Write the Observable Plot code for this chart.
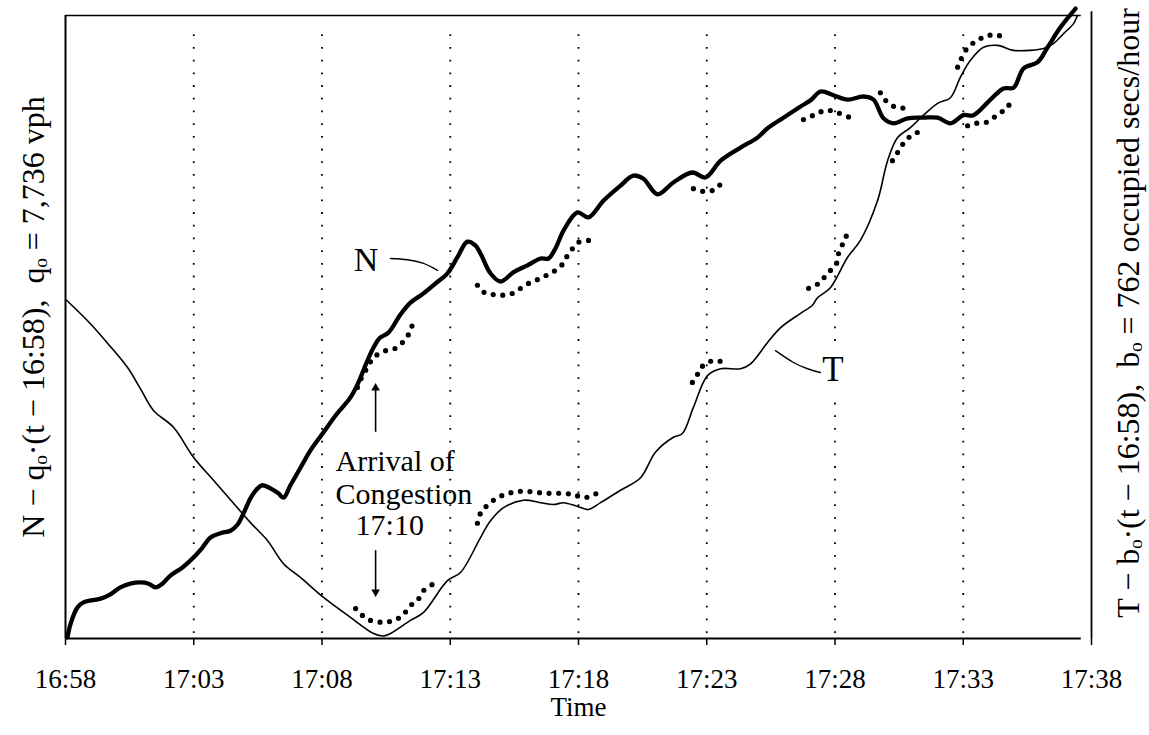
<!DOCTYPE html>
<html>
<head>
<meta charset="utf-8">
<script src="https://cdn.jsdelivr.net/npm/d3@7"></script>
<script src="https://cdn.jsdelivr.net/npm/@observablehq/plot@0.6"></script>
<style>
  html, body { margin: 0; padding: 0; background: #fff; }
  #chart { width: 1149px; height: 735px; }
  #chart svg, #chart svg text { font-family: "Liberation Serif", "Times New Roman", Times, serif !important; }
</style>
</head>
<body>
<div id="chart"></div>
<script>
// x: minutes after 16:58, y: cumulative count (arbitrary units, 0 = bottom of frame)
const tickMinutes = [0, 5, 10, 15, 20, 25, 30, 35, 40];
const tickLabels = ["16:58", "17:03", "17:08", "17:13", "17:18", "17:23", "17:28", "17:33", "17:38"];
const gridMinutes = [5, 10, 15, 20, 25, 30, 35];

// N curve (thick)
const seriesN = [
  [0.08,0.2],[0.20,2.4],[0.47,5.0],[0.70,5.8],[1.37,6.4],[1.75,7.1],[2.14,8.2],[2.53,8.8],[2.92,9.0],
  [3.24,8.8],[3.51,8.2],[3.78,8.8],[4.09,10.1],[4.56,11.4],[4.99,13.0],[5.34,14.6],[5.65,16.2],
  [6.04,16.9],[6.43,17.3],[6.71,18.3],[6.94,20.1],[7.21,22.5],[7.49,24.1],[7.68,24.6],[7.99,24.1],
  [8.30,23.3],[8.50,22.6],[8.77,24.6],[9.16,27.4],[9.55,30.2],[10.06,33.1],[10.53,35.8],[11.11,38.7],
  [11.42,41.1],[11.77,44.6],[12.01,46.7],[12.24,48.2],[12.59,49.1],[13.06,52.0],[13.45,53.9],
  [13.96,55.4],[14.43,57.0],[14.89,58.6],[15.28,61.2],[15.67,63.7],[15.98,63.1],[16.18,61.8],
  [16.57,58.6],[16.96,57.3],[17.47,58.8],[18.01,59.9],[18.52,61.0],[18.83,61.0],[19.10,62.6],
  [19.42,65.5],[19.96,68.4],[20.39,67.6],[20.98,70.3],[21.64,72.7],[22.14,74.3],[22.53,73.8],
  [23.08,71.3],[23.70,73.2],[24.44,74.8],[24.95,74.0],[25.54,76.7],[26.32,78.8],[26.98,80.4],
  [27.37,81.9],[27.99,83.6],[28.66,85.4],[29.05,86.4],[29.44,87.8],[29.94,87.2],[30.49,86.5],
  [31.11,87.0],[31.50,86.5],[31.89,83.5],[32.28,82.7],[32.83,83.5],[33.45,83.6],[34.00,83.6],
  [34.50,82.7],[35.01,84.0],[35.40,84.0],[36.06,86.5],[36.57,88.3],[36.96,88.4],[37.35,91.5],
  [37.90,92.5],[38.29,94.9],[38.79,98.1],[39.38,101.1]
];

// T curve (thin)
const seriesT = [
  [0.04,54.3],[0.86,51.0],[1.64,47.4],[2.42,43.5],[2.92,40.1],[3.43,36.6],[4.21,33.9],[4.99,29.1],
  [5.77,25.4],[6.55,21.7],[7.21,18.6],[7.88,15.7],[8.50,12.0],[9.16,9.8],[10.06,6.6],[11.11,3.4],
  [12.01,0.8],[12.40,0.4],[12.67,0.8],[13.45,2.9],[13.96,4.2],[14.89,9.3],[15.40,10.6],[16.18,16.2],
  [16.57,18.9],[17.08,21.0],[17.86,22.2],[18.52,21.8],[19.03,21.5],[19.42,21.8],[19.96,21.2],
  [20.39,20.7],[20.86,21.8],[21.64,23.8],[22.42,25.8],[23.00,29.9],[23.70,32.3],[24.05,32.9],
  [24.48,37.1],[25.03,42.2],[25.54,43.3],[26.32,43.3],[26.71,44.1],[27.37,47.5],[27.88,49.9],
  [28.66,52.2],[29.12,53.5],[29.32,54.7],[29.82,56.3],[30.49,61.2],[30.99,63.9],[31.66,70.3],
  [32.05,76.7],[32.44,80.4],[32.94,82.0],[33.45,84.0],[34.00,85.9],[34.50,86.8],[34.89,90.1],
  [35.28,92.8],[35.79,94.9],[36.34,95.2],[36.96,94.4],[37.62,94.4],[38.13,94.7],[38.52,95.5],
  [38.91,97.1],[39.30,98.7],[39.45,100.0]
];

// dotted comparison segments
const dots1 = [[11.38,40.3],[11.58,42.2],[11.77,43.5],[12.01,45.1],[12.48,46.2],[12.87,46.6],[13.18,47.7],[13.45,49.4],[13.57,51.4]];
const dots2 = [[11.31,4.8],[11.58,3.7],[11.89,2.9],[12.40,2.6],[12.79,2.9],[13.14,3.7],[13.45,5.3],[13.72,6.1],[13.96,7.7],[14.31,8.7]];
const dots3 = [[16.06,18.5],[16.18,20.1],[16.45,21.4],[16.84,22.6],[17.27,23.3],[17.66,23.6],[18.05,23.6],[18.52,23.4],[18.91,23.3],[19.38,23.3],[19.81,23.1],[20.20,22.6],[20.55,23.0],[20.86,23.6]];
const dots4 = [[16.06,56.7],[16.34,55.5],[16.69,55.2],[17.04,55.1],[17.43,55.4],[17.74,56.2],[18.05,57.0],[18.40,57.6],[18.75,58.3],[19.03,58.9],[19.34,59.9],[19.53,61.2],[19.77,62.6],[20.00,63.6],[20.39,63.9]];
const dots5 = [[24.48,72.2],[24.80,71.8],[25.11,71.8],[25.38,72.2],[25.58,73.2]];
const dots6 = [[24.44,41.1],[24.64,42.4],[24.83,43.7],[25.15,44.5],[25.46,44.5],[25.77,44.5]];
const dots7 = [[28.97,56.2],[29.36,57.0],[29.71,58.6],[30.06,60.2],[30.14,61.8],[30.33,63.6],[30.45,64.7]];
const dots8 = [[28.77,83.3],[29.16,84.0],[29.67,84.8],[30.10,84.4],[30.60,83.6]];
const dots9 = [[31.77,87.6],[31.89,86.8],[32.09,85.9],[32.44,85.2],[32.87,85.2]];
const dots10 = [[32.24,76.7],[32.44,78.0],[32.67,79.5],[32.87,80.4],[33.14,81.1],[33.41,81.5]];
const dots11 = [[35.17,82.3],[35.48,82.7],[35.87,82.8],[36.18,83.6],[36.45,84.4],[36.73,85.2],[36.84,86.4]];
const dots12 = [[34.78,91.7],[34.89,92.8],[35.09,94.4],[35.36,95.5],[35.67,96.3],[35.98,96.8],[36.37,96.8],[36.76,96.3]];
const dottedSegments = [dots1, dots2, dots3, dots4, dots5, dots6, dots7, dots8, dots9, dots10, dots11, dots12];

// annotation leaders
const leaderN = [[12.67,61.0],[13.33,60.8],[13.96,60.2],[14.50,59.1]];
const leaderT = [[27.68,46.2],[28.38,44.3],[28.93,43.3],[29.43,42.7]];
const congestionLines = ["Arrival of", "Congestion", "17:10"];

const leftLabel = "N \u2212 q\u2092\u00b7(t \u2212 16:58),  q\u2092 = 7,736 vph";
const rightLabel = "T \u2212 b\u2092\u00b7(t \u2212 16:58),  b\u2092 = 762 occupied secs/hour";
const xLabel = "Time";

const FONT = "Liberation Serif";
const xy = {x: d => d[0], y: d => d[1]};

const marks = [
  // dotted vertical gridlines
  Plot.ruleX(gridMinutes, {y1: 0.8, y2: 98, stroke: "#000", strokeWidth: 1.8, strokeDasharray: "1.8,10.9"}),
  // white halo behind T label
  Plot.text(["T"], {x: () => 29.92, y: () => 43.2, fontSize: 35, stroke: "#fff", strokeWidth: 22, fill: "#fff"}),
  // frame
  Plot.ruleY([0], {x1: 0, x2: 39.6, stroke: "#000", strokeWidth: 1.8}),
  Plot.ruleY([100], {x1: 0, x2: 39.6, stroke: "#000", strokeWidth: 1.6}),
  Plot.ruleX([0], {y1: 0, y2: 100, stroke: "#000", strokeWidth: 2}),
  Plot.ruleX([40], {y1: 0, y2: 100.6, stroke: "#000", strokeWidth: 1.8}),
  Plot.axisX({ticks: tickMinutes, tickFormat: d => tickLabels[tickMinutes.indexOf(d)], tickSize: 7, tickPadding: 23, fontSize: 27, stroke: "#000", strokeWidth: 1.5, label: null, color: "#000"}),
  // curves
  Plot.line(seriesT, {...xy, curve: "catmull-rom", stroke: "#000", strokeWidth: 1.6}),
  Plot.line(seriesN, {...xy, curve: "catmull-rom", stroke: "#000", strokeWidth: 4.3}),
  ...dottedSegments.map(seg => Plot.line(seg, {...xy, curve: "catmull-rom", stroke: "#000", strokeWidth: 5.2, strokeLinecap: "round", strokeDasharray: "0,9.6"})),
  // leaders
  Plot.line(leaderN, {...xy, curve: "natural", stroke: "#000", strokeWidth: 1.4}),
  Plot.line(leaderT, {...xy, curve: "natural", stroke: "#000", strokeWidth: 1.4}),
  // curve labels
  Plot.text(["N"], {x: () => 11.72, y: () => 60.8, fontSize: 34, fill: "#000"}),
  Plot.text(["T"], {x: () => 29.92, y: () => 43.2, fontSize: 35, fill: "#000"}),
  // arrival of congestion annotation
  Plot.text(congestionLines, {x: (d, i) => [10.53, 10.53, 11.31][i], y: (d, i) => [28.5, 23.2, 18.1][i], text: d => d, textAnchor: "start", fontSize: 30, fill: "#000"}),
  Plot.ruleX([12.09], {y1: 33.1, y2: 40.0, stroke: "#000", strokeWidth: 1.6}),
  Plot.ruleX([12.09], {y1: 14.1, y2: 7.6, stroke: "#000", strokeWidth: 1.6}),
  Plot.dot([0], {x: () => 12.09, y: () => 40.2, symbol: "triangle", r: 3.2, fill: "#000", stroke: "none"}),
  Plot.dot([0], {x: () => 12.09, y: () => 7.45, symbol: "triangle", r: 3.2, rotate: 180, fill: "#000", stroke: "none"}),
  // axis titles
  Plot.text([xLabel], {frameAnchor: "bottom", text: d => d, textAnchor: "middle", dy: 77, fontSize: 27, fill: "#000"}),
  Plot.text([leftLabel], {frameAnchor: "left", text: d => d, textAnchor: "middle", rotate: -90, dx: -32, dy: -10, fontSize: 32, fill: "#000"}),
  Plot.text([rightLabel], {frameAnchor: "right", text: d => d, textAnchor: "middle", rotate: -90, dx: 37, dy: -14, fontSize: 32, fill: "#000"})
];

const chart = Plot.plot({
  width: 1149,
  height: 735,
  marginTop: 15,
  marginBottom: 97,
  marginLeft: 65,
  marginRight: 58,
  x: {domain: [0, 40]},
  y: {domain: [0, 100], axis: null},
  style: {background: "#fff", color: "#000", fontFamily: FONT, overflow: "visible"},
  marks
});
document.getElementById("chart").appendChild(chart);
</script>
</body>
</html>
